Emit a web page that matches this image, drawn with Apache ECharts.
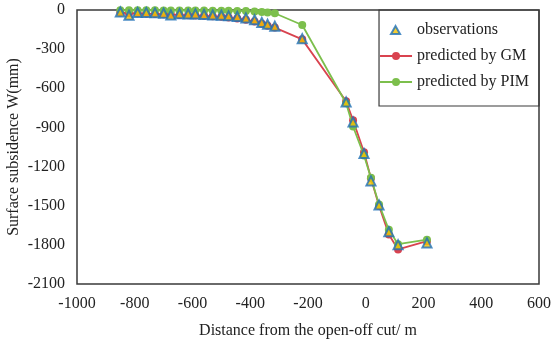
<!DOCTYPE html>
<html>
<head>
<meta charset="utf-8">
<script src="https://cdn.jsdelivr.net/npm/echarts@6/dist/echarts.min.js"></script>
<style>
  html, body { margin: 0; padding: 0; background: #fff; }
  #chart { width: 554px; height: 342px; }
</style>
</head>
<body>
<div id="chart"></div>
<script>
// distance from the open-off cut (m)
var distance = [-850, -820, -790, -760, -730, -700, -675, -645, -615, -590, -560, -530, -500, -475, -445, -415, -385, -360, -340, -315, -220,
  -68, -44, -6, 18, 46, 80, 112, 212];
// surface subsidence (mm)
var observed = [-15, -40, -20, -20, -22, -25, -38, -28, -30, -30, -35, -38, -40, -45, -50, -62, -75, -95, -110, -125, -220,
  -705, -858, -1100, -1310, -1495, -1700, -1800, -1785];
var predictedGM = [-20, -25, -25, -28, -30, -32, -35, -38, -40, -42, -45, -48, -52, -58, -65, -75, -88, -105, -120, -135, -225,
  -700, -845, -1090, -1290, -1500, -1720, -1835, -1772];
var predictedPIM = [-2, -2, -2, -2, -2, -3, -3, -3, -3, -4, -4, -5, -5, -6, -7, -8, -12, -16, -20, -25, -115,
  -715, -893, -1115, -1285, -1490, -1685, -1795, -1760];

function pairs(ys) {
  return distance.map(function (x, i) { return [x, ys[i]]; });
}

var chart = echarts.init(document.getElementById("chart"));
var serif = "Liberation Serif";
// small triangle centred in a 32x10 legend box
var legendTriangle = "path://M0,0M32,10M11,9L15.5,1L20,9Z";

chart.setOption({
  animation: false,
  textStyle: { fontFamily: serif },
  grid: {
    left: 77,
    right: 15,
    top: 10,
    bottom: 58,
    outerBoundsMode: "none",
    show: true,
    borderColor: "#3a3a3a",
    borderWidth: 1.5,
  },
  legend: {
    orient: "vertical",
    right: 15,
    top: 10,
    padding: [12, 10, 16, 0],
    itemGap: 10,
    itemWidth: 32,
    itemHeight: 10,
    borderColor: "#3a3a3a",
    borderWidth: 1.2,
    textStyle: { fontFamily: serif, fontSize: 16, color: "#222" },
    data: [
      { name: "observations", icon: legendTriangle },
      "predicted by GM",
      "predicted by PIM",
    ],
  },
  xAxis: {
    type: "value",
    min: -1000,
    max: 600,
    interval: 200,
    name: "Distance from the open-off cut/ m",
    nameLocation: "middle",
    nameGap: 39,
    nameMoveOverlap: false,
    nameTextStyle: { fontFamily: serif, fontSize: 16, color: "#222" },
    axisLine: { show: false },
    axisTick: { show: false },
    splitLine: { show: false },
    axisLabel: {
      fontFamily: serif, fontSize: 16, color: "#222", margin: 12,
      formatter: function (v) { return String(v); },
    },
  },
  yAxis: {
    type: "value",
    min: -2100,
    max: 0,
    interval: 300,
    name: "Surface subsidence W(mm)",
    nameLocation: "middle",
    nameGap: 55,
    nameMoveOverlap: false,
    nameTextStyle: { fontFamily: serif, fontSize: 16, color: "#222" },
    axisLine: { show: false },
    axisTick: { show: false },
    splitLine: { show: false },
    axisLabel: {
      fontFamily: serif, fontSize: 16, color: "#222", margin: 12,
      formatter: function (v) { return String(v); },
    },
  },
  series: [
    {
      name: "predicted by GM",
      type: "line",
      data: pairs(predictedGM),
      symbol: "circle",
      symbolSize: 8,
      z: 2,
      lineStyle: { color: "#d9434f", width: 1.8 },
      itemStyle: { color: "#d9434f" },
    },
    {
      name: "predicted by PIM",
      type: "line",
      data: pairs(predictedPIM),
      symbol: "circle",
      symbolSize: 8,
      z: 3,
      lineStyle: { color: "#7cbf4c", width: 1.8 },
      itemStyle: { color: "#7cbf4c" },
    },
    {
      name: "observations",
      type: "scatter",
      data: pairs(observed),
      symbol: "triangle",
      symbolSize: 9,
      z: 4,
      itemStyle: { color: "#f5c200", borderColor: "#1f70b8", borderWidth: 2 },
    },
  ],
});
</script>
</body>
</html>
